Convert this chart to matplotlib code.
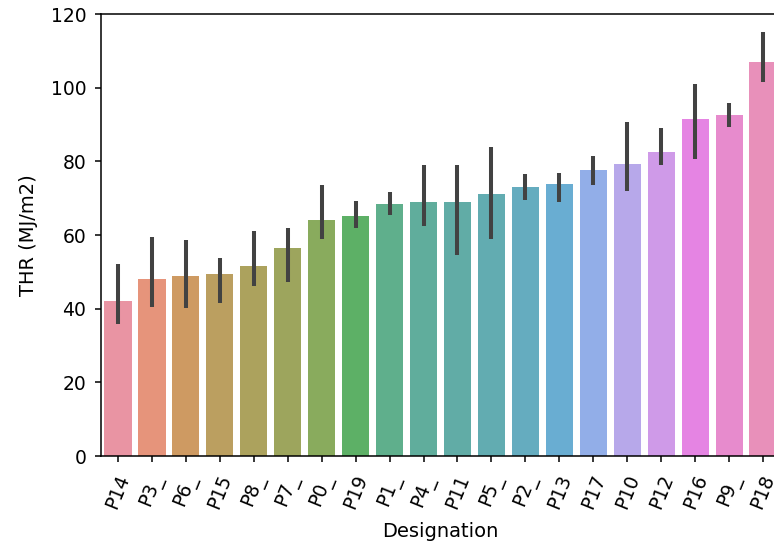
import matplotlib
matplotlib.use("Agg")
import matplotlib.pyplot as plt
import seaborn as sns
import numpy as np

categories = ["P14", "P3_", "P6_", "P15", "P8_", "P7_", "P0_", "P19", "P1_", "P4_",
              "P11", "P5_", "P2_", "P13", "P17", "P10", "P12", "P16", "P9_", "P18"]
means = [42.2, 48.1, 48.8, 49.3, 51.5, 56.6, 64.1, 65.1, 68.5, 69.1,
         69.1, 71.1, 73.0, 73.9, 77.6, 79.3, 82.5, 91.5, 92.5, 106.9]
ci_low = [35.8, 40.4, 40.1, 41.6, 46.2, 47.2, 58.8, 61.8, 65.5, 62.5,
          54.6, 58.8, 69.5, 68.9, 73.6, 71.9, 78.9, 80.6, 89.3, 101.5]
ci_high = [52.1, 59.4, 58.6, 53.8, 61.1, 62.0, 73.6, 69.3, 71.7, 78.9,
           78.9, 83.9, 76.5, 76.9, 81.5, 90.6, 89.0, 101.1, 95.8, 115.2]

colors = [sns.desaturate(c, 0.75) for c in sns.color_palette("husl", len(categories))]

fig = plt.figure(figsize=(7.74, 5.46), dpi=100)
ax = fig.add_axes([0.1305, 0.1648, 0.8773, 0.8095])

x = np.arange(len(categories))
ax.bar(x, means, width=0.8, color=colors, alpha=0.85, edgecolor="none")
for xi, lo, hi in zip(x, ci_low, ci_high):
    ax.plot([xi, xi], [lo, hi], color=".26", linewidth=2.9, solid_capstyle="butt")

ax.set_xlim(-0.5, len(categories) - 0.5)
ax.set_ylim(0, 120)
ax.set_yticks([0, 20, 40, 60, 80, 100, 120])
ax.set_xticks(x)
ax.set_xticklabels(categories, rotation=68)
ax.tick_params(labelsize=13.5, length=4.5, width=1.1, pad=6)
ax.tick_params(axis="x", pad=7)
ax.set_xlabel("Designation", fontsize=14, labelpad=7)
ax.set_ylabel("THR (MJ/m2)", fontsize=14, labelpad=9)
for s in ax.spines.values():
    s.set_linewidth(1.1)

fig.savefig("out.png", dpi=100)
